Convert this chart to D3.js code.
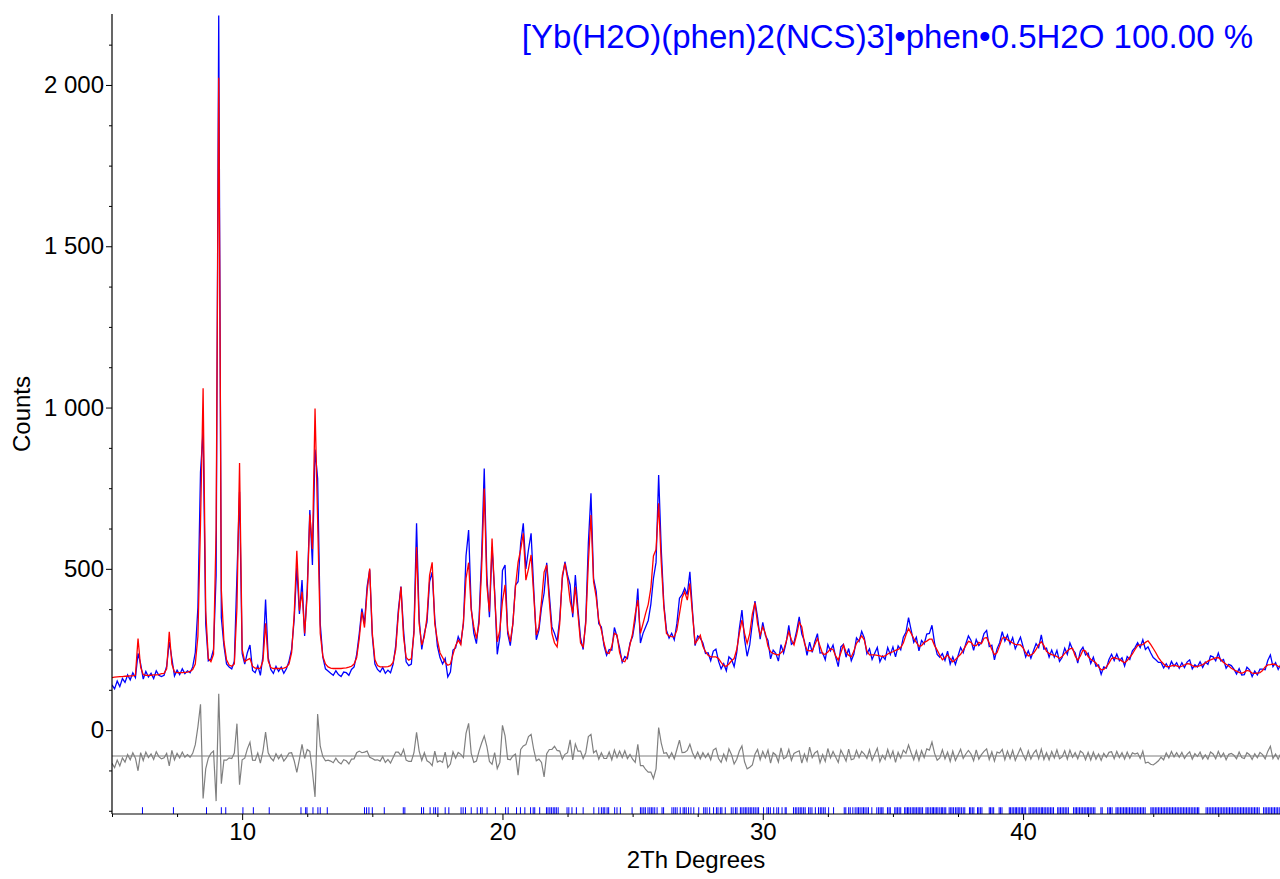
<!DOCTYPE html>
<html>
<head>
<meta charset="utf-8">
<script src="https://cdn.jsdelivr.net/npm/d3@7"></script>
<style>
  body { margin: 0; background: #fff; }
  svg { display: block; font-family: "Liberation Sans", Arial, sans-serif; }
</style>
</head>
<body>
<svg id="plot"></svg>
<script>
// scan grid: 5.0 .. 49.9 deg 2Th, one value every 0.1 deg
const startAngle = 5.0,
      stepAngle  = 0.1;

// observed counts (blue), one row per degree
const observed = [
  140, 128, 152, 135, 160, 148, 171, 156, 178, 163,
  238, 205, 158, 182, 165, 176, 160, 184, 170, 166,
  170, 198, 274, 222, 168, 186, 172, 190, 175, 184,
  178, 196, 240, 380, 800, 928, 330, 215, 220, 250,
  480, 2215, 349, 262, 205, 196, 190, 214, 480, 739,
  238, 205, 240, 264, 185, 178, 200, 170, 230, 405,
  225, 188, 176, 198, 182, 195, 176, 190, 214, 250,
  345, 505, 360, 465, 292, 440, 682, 512, 870, 780,
  330, 226, 190, 183, 176, 170, 184, 172, 166, 180,
  178, 170, 188, 196, 235, 300, 377, 330, 445, 497,
  292, 205, 188, 180, 194, 176, 186, 178, 205, 262,
  372, 445, 310, 212, 200, 205, 310, 641, 345, 250,
  300, 335, 460, 490, 345, 260, 225, 205, 222, 165,
  180, 248, 255, 290, 270, 330, 540, 620, 380, 300,
  268, 345, 540, 811, 480, 350, 568, 430, 235, 290,
  495, 512, 300, 262, 330, 450, 460, 580, 641, 500,
  560, 610, 440, 280, 310, 380, 425, 519, 420, 320,
  300, 275, 345, 470, 522, 480, 450, 350, 481, 375,
  285, 250, 340, 580, 734, 470, 430, 330, 320, 262,
  232, 250, 248, 318, 290, 255, 210, 228, 222, 270,
  290, 340, 439, 270, 300, 320, 340, 390, 470, 520,
  791, 560, 390, 310, 285, 300, 280, 330, 409, 420,
  440, 420, 491, 370, 262, 292, 285, 270, 238, 240,
  215, 245, 251, 214, 190, 206, 184, 227, 219, 197,
  240, 315, 372, 282, 229, 265, 332, 400, 350, 282,
  334, 294, 278, 221, 248, 238, 214, 265, 239, 271,
  325, 266, 272, 307, 351, 298, 276, 232, 273, 241,
  274, 299, 239, 240, 218, 265, 246, 264, 227, 197,
  258, 266, 226, 253, 215, 236, 286, 275, 306, 286,
  237, 252, 219, 238, 256, 212, 230, 219, 256, 234,
  258, 227, 261, 249, 288, 303, 349, 310, 272, 288,
  246, 278, 267, 298, 300, 325, 270, 235, 226, 237,
  216, 245, 205, 227, 204, 230, 256, 240, 268, 292,
  278, 247, 281, 262, 272, 299, 309, 259, 263, 218,
  252, 271, 305, 276, 295, 267, 287, 252, 270, 288,
  259, 227, 246, 223, 246, 268, 256, 295, 251, 254,
  226, 248, 226, 247, 213, 225, 254, 235, 270, 250,
  240, 208, 245, 257, 233, 239, 207, 226, 198, 202,
  173, 196, 192, 219, 235, 216, 236, 215, 224, 199,
  228, 219, 246, 256, 271, 256, 280, 250, 258, 240,
  225, 218, 210, 210, 193, 206, 191, 213, 198, 209,
  192, 209, 194, 211, 218, 190, 203, 196, 212, 194,
  211, 204, 230, 227, 215, 239, 214, 219, 192, 204,
  200, 189, 174, 191, 171, 172, 195, 187, 166, 183,
  171, 189, 189, 187, 216, 233, 197, 209, 188, 204
];

// calculated profile (red), same grid
const calculated = [
  163, 164, 165, 166, 166, 167, 167, 168, 168, 170,
  284, 195, 172, 170, 170, 170, 171, 171, 172, 175,
  176, 190, 305, 205, 180, 178, 178, 178, 179, 180,
  182, 188, 205, 290, 640, 1060, 370, 222, 212, 235,
  620, 2022, 435, 275, 218, 202, 198, 205, 380, 828,
  250, 212, 218, 222, 198, 192, 191, 192, 215, 331,
  215, 194, 191, 191, 191, 191, 192, 195, 205, 240,
  360, 556, 370, 429, 300, 420, 668, 561, 997, 650,
  300, 228, 205, 196, 192, 191, 191, 191, 191, 192,
  193, 195, 198, 205, 225, 285, 367, 318, 430, 501,
  300, 218, 200, 196, 196, 196, 197, 200, 210, 250,
  360, 444, 290, 225, 217, 222, 300, 568, 330, 264,
  290, 350, 480, 520, 330, 279, 240, 225, 210, 201,
  205, 235, 262, 279, 265, 335, 470, 519, 372, 320,
  284, 330, 500, 749, 450, 367, 594, 420, 274, 310,
  400, 450, 310, 274, 330, 444, 520, 560, 610, 465,
  500, 543, 420, 295, 320, 400, 490, 512, 400, 300,
  270, 258, 330, 480, 517, 470, 400, 362, 444, 360,
  270, 258, 330, 520, 667, 460, 413, 340, 310, 270,
  240, 238, 260, 300, 295, 240, 215, 212, 230, 265,
  300, 360, 403, 300, 330, 362, 390, 440, 540, 560,
  703, 520, 382, 300, 292, 290, 289, 310, 360, 410,
  429, 403, 455, 360, 269, 280, 294, 260, 243, 232,
  227, 227, 227, 222, 210, 200, 198, 205, 215, 222,
  250, 300, 341, 300, 269, 300, 360, 395, 330, 294,
  320, 300, 260, 243, 238, 235, 233, 240, 248, 275,
  305, 280, 264, 295, 335, 320, 270, 248, 246, 246,
  265, 284, 260, 236, 235, 242, 252, 250, 230, 217,
  240, 264, 242, 232, 227, 245, 269, 280, 292, 280,
  245, 233, 233, 233, 232, 230, 228, 230, 236, 240,
  243, 247, 250, 256, 270, 295, 315, 300, 284, 272,
  260, 262, 272, 276, 282, 282, 262, 248, 232, 218,
  225, 233, 222, 212, 218, 227, 235, 248, 262, 275,
  272, 262, 262, 272, 268, 285, 287, 270, 250, 234,
  240, 262, 285, 288, 280, 275, 270, 266, 265, 264,
  255, 240, 230, 233, 238, 250, 265, 274, 262, 244,
  238, 234, 232, 228, 222, 228, 238, 245, 252, 254,
  230, 217, 230, 248, 245, 228, 220, 214, 208, 196,
  187, 188, 196, 208, 222, 225, 222, 220, 214, 209,
  216, 226, 236, 250, 262, 264, 265, 272, 277, 266,
  253, 240, 225, 214, 205, 197, 197, 199, 201, 199,
  196, 198, 202, 206, 205, 200, 196, 198, 200, 203,
  208, 214, 218, 221, 224, 225, 218, 210, 204, 199,
  192, 187, 183, 179, 176, 180, 185, 183, 177, 176,
  177, 178, 185, 196, 202, 203, 205, 203, 198, 196
];

// difference curve is drawn shifted down by this many counts
const diffOffset = -80;

// reflection positions (blue tick marks), deg 2Th
const reflections = [
  6.17, 7.36, 8.63, 9.20, 9.37, 10.03, 10.43, 11.04, 12.26, 12.44, 12.49, 12.72, 12.91, 13.00, 13.27,
  14.70, 14.78, 14.87, 15.00, 15.46, 16.19, 16.25, 16.89, 16.97, 17.22, 17.36, 17.43, 17.52, 17.80,
  17.94, 18.41, 18.49, 18.58, 18.80, 19.03, 19.16, 19.22, 19.41, 19.73, 20.12, 20.22, 20.54, 20.69,
  20.86, 21.08, 21.18, 21.24, 21.43, 21.69, 21.75, 21.82, 21.88, 21.95, 22.01, 22.07, 22.14, 22.48,
  22.55, 22.67, 22.84, 23.10, 23.51, 23.70, 23.80, 23.87, 23.93, 24.02, 24.08, 24.31, 24.40, 24.53,
  24.98, 25.30, 25.36, 25.43, 25.49, 25.59, 25.66, 25.72, 25.78, 25.85, 25.94, 26.13, 26.19, 26.51,
  26.58, 26.64, 26.71, 26.83, 26.94, 27.00, 27.06, 27.15, 27.24, 27.35, 27.54, 27.73, 27.79, 27.86,
  27.96, 28.11, 28.22, 28.28, 28.37, 28.43, 28.56, 28.79, 28.86, 28.95, 29.01, 29.14, 29.20, 29.27,
  29.33, 29.39, 29.46, 29.52, 29.58, 29.65, 29.71, 29.78, 29.84, 30.03, 30.16, 30.22, 30.29, 30.42,
  30.54, 30.61, 30.74, 30.86, 30.90, 31.18, 31.25, 31.31, 31.38, 31.44, 31.50, 31.57, 31.63, 31.76,
  31.82, 31.89, 32.02, 32.14, 32.21, 32.27, 32.34, 32.40, 32.53, 32.72, 33.13, 33.19, 33.30, 33.36,
  33.46, 33.55, 33.62, 33.68, 33.74, 33.81, 33.87, 33.93, 34.00, 34.06, 34.19, 34.38, 34.45, 34.51,
  34.57, 34.62, 34.79, 34.85, 34.90, 35.07, 35.12, 35.18, 35.24, 35.30, 35.45, 35.50, 35.56, 35.61,
  35.67, 35.74, 35.80, 35.85, 35.91, 35.97, 36.03, 36.08, 36.14, 36.27, 36.32, 36.38, 36.45, 36.51,
  36.56, 36.62, 36.68, 36.73, 36.80, 36.86, 36.91, 36.97, 37.03, 37.16, 37.22, 37.27, 37.33, 37.40,
  37.46, 37.51, 37.57, 37.63, 37.70, 37.76, 37.94, 37.99, 38.05, 38.11, 38.25, 38.30, 38.36, 38.42,
  38.70, 38.75, 38.81, 38.87, 39.08, 39.13, 39.19, 39.47, 39.52, 39.58, 39.64, 39.70, 39.75, 39.81,
  39.87, 39.93, 39.98, 40.04, 40.10, 40.23, 40.29, 40.35, 40.41, 40.46, 40.52, 40.58, 40.64, 40.70,
  40.75, 40.81, 40.87, 40.93, 40.99, 41.05, 41.11, 41.17, 41.33, 41.38, 41.44, 41.50, 41.56, 41.62,
  41.68, 41.74, 41.94, 42.00, 42.05, 42.11, 42.17, 42.23, 42.29, 42.35, 42.41, 42.47, 42.52, 42.58,
  42.64, 42.70, 42.76, 42.99, 43.04, 43.25, 43.31, 43.36, 43.42, 43.57, 43.62, 43.68, 43.74, 43.80,
  43.86, 43.92, 43.97, 44.03, 44.09, 44.15, 44.21, 44.27, 44.33, 44.39, 44.45, 44.51, 44.57, 44.63,
  44.69, 44.91, 44.96, 45.02, 45.08, 45.14, 45.20, 45.26, 45.32, 45.38, 45.44, 45.50, 45.56, 45.62,
  45.68, 45.74, 45.80, 45.86, 45.92, 45.98, 46.04, 46.10, 46.16, 46.22, 46.28, 46.34, 46.40, 46.46,
  46.52, 46.58, 46.64, 46.70, 46.75, 47.03, 47.09, 47.15, 47.21, 47.27, 47.33, 47.39, 47.45, 47.51,
  47.57, 47.63, 47.69, 47.75, 47.81, 47.87, 47.93, 47.99, 48.05, 48.11, 48.17, 48.23, 48.29, 48.35,
  48.41, 48.47, 48.53, 48.59, 48.65, 48.71, 48.77, 48.83, 48.89, 48.95, 49.01, 49.07, 49.24, 49.30,
  49.36, 49.42, 49.48, 49.54, 49.60, 49.66, 49.72, 49.78, 49.84
];

const xMajorTicks = [10, 20, 30, 40],
      xMinorTicks = [5, 7.5, 12.5, 15, 17.5, 22.5, 25, 27.5, 32.5, 35, 37.5, 42.5, 45, 47.5],
      yMajorTicks = [0, 500, 1000, 1500, 2000],
      yMinorTicks = [-250, -125, 125, 250, 375, 625, 750, 875, 1125, 1250, 1375, 1625, 1750, 1875, 2125];

const phaseLabel = '[Yb(H2O)(phen)2(NCS)3]\u2022phen\u20220.5H2O 100.00 %';

const width = 1280, height = 879,
      plotLeft = 112, plotRight = 1280, plotTop = 14, plotBottom = 814;

const svg = d3.select('#plot')
              .attr('width', width)
              .attr('height', height);

const x = d3.scaleLinear().domain([5, 49.87]).range([plotLeft, plotRight]),
      y = d3.scaleLinear().domain([-260, 2220]).range([plotBottom, plotTop]);

const angleAt = i => startAngle + i * stepAngle,
      spaced  = d3.formatLocale({decimal: '.', thousands: '\u00a0', grouping: [3], currency: ['', '']}).format(',');

svg.append('clipPath')
    .attr('id', 'area')
  .append('rect')
    .attr('x', plotLeft).attr('y', plotTop)
    .attr('width', plotRight - plotLeft).attr('height', plotBottom - plotTop);

const plot = svg.append('g').attr('clip-path', 'url(#area)');

const line = d3.line()
               .x((d, i) => x(angleAt(i)))
               .y(d => y(d));

// difference zero line + difference curve
plot.append('line')
    .attr('x1', plotLeft).attr('x2', plotRight)
    .attr('y1', y(diffOffset)).attr('y2', y(diffOffset))
    .attr('stroke', '#a8a8a8')
    .attr('stroke-width', 1.6);

plot.append('path')
    .datum(observed.map((o, i) => o - calculated[i] + diffOffset))
    .attr('fill', 'none')
    .attr('stroke', '#808080')
    .attr('stroke-width', 1.2)
    .attr('d', line);

plot.append('path')
    .datum(observed)
    .attr('fill', 'none')
    .attr('stroke', '#0000ff')
    .attr('stroke-width', 1.3)
    .attr('d', line);

plot.append('path')
    .datum(calculated)
    .attr('fill', 'none')
    .attr('stroke', '#ff0000')
    .attr('stroke-width', 1.3)
    .attr('d', line);

plot.selectAll('.refl')
    .data(reflections)
    .enter()
    .append('line')
    .classed('refl', true)
    .attr('x1', d => x(d)).attr('x2', d => x(d))
    .attr('y1', y(-239)).attr('y2', y(-260))
    .attr('stroke', '#0000ff')
    .attr('stroke-width', 1);

// axes
function styleAxis(g) {
  g.attr('font-family', null).attr('font-size', null);
  g.selectAll('text').attr('font-size', '24px').attr('fill', '#000');
  g.selectAll('line').attr('stroke', '#000');
  g.select('.domain').remove();
}

svg.append('g')
    .attr('transform', `translate(0, ${plotBottom})`)
    .call(d3.axisBottom(x).tickValues(xMinorTicks).tickSize(3).tickFormat(''))
    .call(styleAxis);

svg.append('g')
    .attr('transform', `translate(0, ${plotBottom})`)
    .call(d3.axisBottom(x).tickValues(xMajorTicks).tickSize(6).tickPadding(3).tickFormat(d3.format('d')))
    .call(styleAxis);

svg.append('g')
    .attr('transform', `translate(${plotLeft}, 0)`)
    .call(d3.axisLeft(y).tickValues(yMinorTicks).tickSize(3).tickFormat(''))
    .call(styleAxis);

svg.append('g')
    .attr('transform', `translate(${plotLeft}, 0)`)
    .call(d3.axisLeft(y).tickValues(yMajorTicks).tickSize(6).tickPadding(2).tickFormat(spaced))
    .call(styleAxis);

svg.append('line')
    .attr('x1', plotLeft).attr('x2', plotLeft)
    .attr('y1', plotTop).attr('y2', plotBottom)
    .attr('stroke', '#000').attr('stroke-width', 1.2);

svg.append('line')
    .attr('x1', plotLeft).attr('x2', plotRight)
    .attr('y1', plotBottom).attr('y2', plotBottom)
    .attr('stroke', '#000').attr('stroke-width', 1.2);

svg.append('text')
    .attr('x', 696)
    .attr('y', 868)
    .attr('font-size', '24px')
    .style('text-anchor', 'middle')
    .text('2Th Degrees');

svg.append('text')
    .attr('transform', 'translate(30, 414) rotate(-90)')
    .attr('font-size', '24px')
    .style('text-anchor', 'middle')
    .text('Counts');

svg.append('text')
    .attr('x', 1253)
    .attr('y', 48)
    .attr('font-size', '33px')
    .attr('fill', '#0000ff')
    .style('text-anchor', 'end')
    .text(phaseLabel);
</script>
</body>
</html>
